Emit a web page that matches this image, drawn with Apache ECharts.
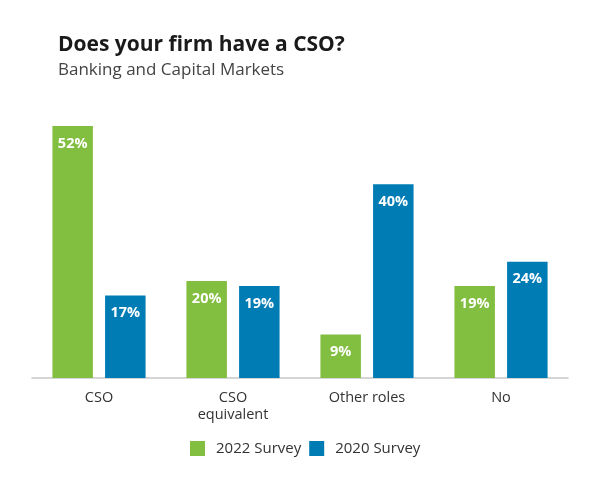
<!DOCTYPE html>
<html>
<head>
<meta charset="utf-8">
<script src="https://cdn.jsdelivr.net/npm/echarts@6/dist/echarts.min.js"></script>
<style>html,body{margin:0;padding:0;background:#fff;}#c{width:600px;height:492px;}</style>
</head>
<body>
<div id="c"></div>
<script>
const categories = ['CSO', 'CSO\nequivalent', 'Other roles', 'No'];
const survey2022 = [52, 20, 9, 19];
const survey2020 = [17, 19, 40, 24];
const seriesNames = ['2022 Survey', '2020 Survey'];

const chart = echarts.init(document.getElementById('c'));
const labelStyle = {
  show: true,
  position: 'insideTop',
  distance: 10,
  color: '#fff',
  fontWeight: 'bold',
  fontSize: 14.5,
  fontFamily: 'Open Sans',
  formatter: p => p.value + '%'
};
chart.setOption({
  animation: false,
  textStyle: { fontFamily: 'Open Sans' },
  title: [
    { text: 'Does your firm have a CSO?', left: 53, top: 30,
      textStyle: { fontSize: 21, fontWeight: 'bold', color: '#1a1a1a', fontFamily: 'Open Sans' } },
    { text: 'Banking and Capital Markets', left: 53, top: 57,
      textStyle: { fontSize: 17, fontWeight: 'normal', color: '#444', fontFamily: 'Open Sans' } }
  ],
  legend: {
    top: 436, left: 185,
    itemWidth: 15, itemHeight: 15, itemGap: 8,
    icon: 'rect',
    textStyle: { fontSize: 15, color: '#333', fontFamily: 'Open Sans', padding: [0, 0, 0, 6] },
    data: seriesNames
  },
  grid: { left: 32, right: 32, top: 126, bottom: 114 },
  xAxis: {
    type: 'category',
    data: categories,
    axisLine: { lineStyle: { color: '#c8c8c8', width: 1.5 } },
    axisTick: { show: false },
    axisLabel: { color: '#333', fontSize: 14.5, margin: 11, lineHeight: 17.5, fontFamily: 'Open Sans' }
  },
  yAxis: {
    type: 'value', min: 0, max: 52,
    show: false,
    splitLine: { show: false }
  },
  series: [
    { name: seriesNames[0], type: 'bar', data: survey2022, barWidth: 40.5, barGap: '30%',
      itemStyle: { color: '#82BE3F' }, label: labelStyle },
    { name: seriesNames[1], type: 'bar', data: survey2020, barWidth: 40.5,
      itemStyle: { color: '#007CB5' }, label: labelStyle }
  ]
});
</script>
</body>
</html>
